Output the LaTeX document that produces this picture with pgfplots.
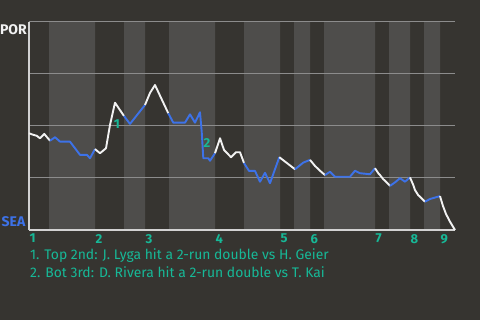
\documentclass[border=0pt]{standalone}
\usepackage{fontspec}
\setmainfont{Fira Sans}
\usepackage{pgfplots}
\pgfplotsset{compat=1.18}
\definecolor{bg}{HTML}{363430}
\definecolor{band}{HTML}{4E4D4B}
\definecolor{gridc}{HTML}{8C8C8C}
\definecolor{axisc}{HTML}{D2D2D2}
\definecolor{seablue}{HTML}{3D72E8}
\definecolor{note}{HTML}{17B897}
\definecolor{porwhite}{HTML}{F2F2F2}
\begin{document}
\begin{tikzpicture}[x=1pt,y=1pt]
\path (0,0) rectangle (480,320);
\begin{axis}[
  set layers,
  at={(29pt,90pt)}, anchor=south west,
  scale only axis, width=426pt, height=208pt,
  xmin=29, xmax=455, ymin=0, ymax=100,
  axis x line=bottom, axis y line=left,
  axis line style={draw=axisc, line width=1.3pt, -},
  xtick={29,95,145,215,280,310,375,410,440},
  xticklabels={1,2,3,4,5,6,7,8,9},
  xticklabel style={anchor=north west, inner sep=0pt, xshift=0.5pt, yshift=-4pt,
    font=\bfseries\fontsize{13}{13}\selectfont, text=note},
  ytick={25,50,75,100}, yticklabels={},
  ymajorgrids, grid style={draw=gridc, line width=1pt},
  major tick length=0pt,
  clip=false,
  top/.style={draw=porwhite, line width=1.9pt, line join=round},
  bot/.style={draw=seablue, line width=1.9pt, line join=round},
]
% page background, behind everything else
\begin{pgfonlayer}{axis background}
\fill[bg] ([xshift=-29pt,yshift=-90pt]rel axis cs:0,0) rectangle ++(480pt,320pt);
\end{pgfonlayer}
% bottom-half innings shaded
\addplot[on layer=axis background, const plot, fill=band, draw=none] coordinates {
  (29,0) (49,100) (95,0) (124,100) (145,0) (169,100) (215,0) (244,100)
  (280,0) (294,100) (310,0) (324,100) (375,0) (389,100) (410,0) (424,100)
  (440,0) (455,0)} \closedcycle;

% win probability (POR = 100), one piece per half-inning
\addplot[top] coordinates {(29,46.5) (33,45.8) (36.7,45.3) (40,44.1) (44.3,46.2) (50,42.9)};
\addplot[bot] coordinates {(50,42.9) (55,44.6) (60,42.5) (70,42.5) (75,39.3) (80,36.1) (87,36.1) (90,34.5) (95,38.9)};
\addplot[top] coordinates {(95,38.9) (100,36.9) (106,39.3) (110,50.5) (115,61.2) (124,54.8)};
\addplot[bot] coordinates {(124,54.8) (130,51.0) (145,60.1)};
\addplot[top] coordinates {(145,60.1) (150,65.9) (155,69.7) (168.3,56.1)};
\addplot[bot] coordinates {(168.3,56.1) (173.3,51.6) (185,51.6) (190,55.6) (195,51.6) (200,56.6) (201.7,47.3) (203.3,34.5) (208.3,34.5) (210,33.3) (215,36.9)};
\addplot[top] coordinates {(215,36.9) (220,44.1) (224,38.5) (231,35.0) (236,37.4) (240,37.4) (244,32.2)};
\addplot[bot] coordinates {(244,32.2) (249,28.4) (255,28.4) (260,23.2) (265,27.5) (270,22.5) (279.3,35.0)};
\addplot[top] coordinates {(279.3,35.0) (295,29.2)};
\addplot[bot] coordinates {(295,29.2) (303.3,32.4) (310,33.7)};
\addplot[top] coordinates {(310,33.7) (315,30.8) (320,28.5) (325,26.4)};
\addplot[bot] coordinates {(325,26.4) (330,28.0) (335,25.6) (350,25.6) (355,28.5) (360,27.3) (370,26.8) (375,29.7)};
\addplot[top] coordinates {(375,29.7) (378.3,27.3) (380,26.4) (383.3,24.4) (385,23.7) (390,21.2)};
\addplot[bot] coordinates {(390,21.2) (395,22.9) (400,24.9) (405,23.2) (410,25.3)};
\addplot[top] coordinates {(410,25.3) (413.3,21.6) (415,19.2) (418.3,16.7) (420,16.0) (425,13.6)};
\addplot[bot] coordinates {(425,13.6) (430,14.9) (440,16.3)};
\addplot[top] coordinates {(440,16.3) (443,11.5) (446,7.7) (450,4.0) (455,0)};

% event markers
\node[font=\bfseries\fontsize{13}{13}\selectfont, text=note, inner sep=0pt] at (axis cs:117,51.0) {1};
\node[font=\bfseries\fontsize{13}{13}\selectfont, text=note, inner sep=0pt] at (axis cs:207,41.8) {2};

% team labels
\node[anchor=north east, inner sep=0pt, xshift=-2pt, yshift=-2pt,
  font=\bfseries\fontsize{14}{14}\selectfont, text=porwhite] at (rel axis cs:0,1) {POR};
\node[anchor=south east, inner sep=0pt, xshift=-3.5pt, yshift=3pt,
  font=\bfseries\fontsize{14}{14}\selectfont, text=seablue] at (rel axis cs:0,0) {SEA};

% play notes
\node[anchor=base west, inner sep=0pt, text=note, font=\fontsize{13.9}{13.9}\selectfont]
  at ([xshift=1pt,yshift=-29.3pt]rel axis cs:0,0) {1. Top 2nd: J. Lyga hit a 2-run double vs H. Geier};
\node[anchor=base west, inner sep=0pt, text=note, font=\fontsize{13.9}{13.9}\selectfont]
  at ([xshift=1pt,yshift=-47.3pt]rel axis cs:0,0) {2. Bot 3rd: D. Rivera hit a 2-run double vs T. Kai};
\end{axis}
\end{tikzpicture}
\end{document}
